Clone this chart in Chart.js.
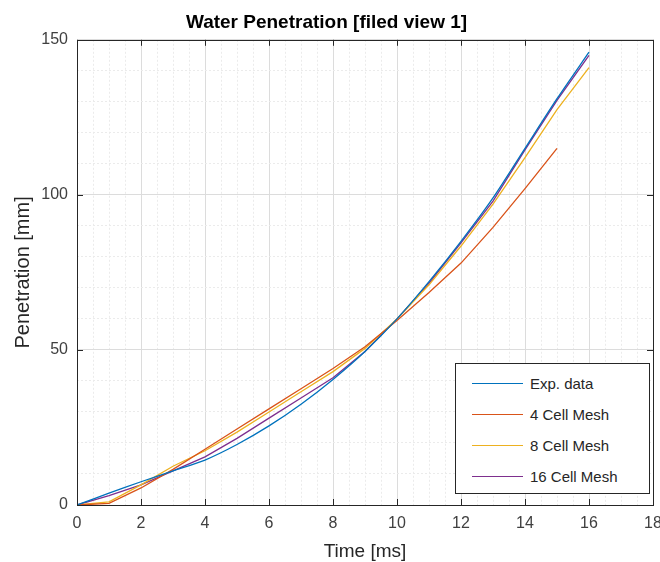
<!DOCTYPE html>
<html>
<head>
<meta charset="utf-8">
<script src="https://cdn.jsdelivr.net/npm/chart.js@4.4.1/dist/chart.umd.min.js"></script>
<style>
  html, body { margin: 0; padding: 0; background: #fff; }
  #wrap { position: relative; width: 660px; height: 562px; }
  #legend {
    position: absolute; left: 455px; top: 363px; width: 195px; height: 131px;
    border: 1px solid #262626; background: #fff; box-sizing: border-box;
    font: 15px "Liberation Sans", Arial, sans-serif; color: #262626;
  }
  #legend .row { position: absolute; left: 16px; height: 20px; display: flex; align-items: center; }
  #legend .sw { width: 51px; height: 0; border-top: 1.3px solid; margin-right: 7px; }
</style>
</head>
<body>
<div id="wrap">
  <canvas id="chart" width="660" height="562"></canvas>
  <div id="legend"></div>
</div>
<script>
// ── DATA ─────────────────────────────────────────────────────
const time16 = [0, 1, 2, 3, 4, 5, 6, 7, 8, 9, 10, 11, 12, 13, 14, 15, 16]
const time15 = [0, 1, 2, 3, 4, 5, 6, 7, 8, 9, 10, 11, 12, 13, 14, 15]
const expData = [0, 3.8, 7.5, 11, 14.5, 19.5, 25.5, 32.5, 40.5, 49.5, 60, 72, 85, 99, 115, 131, 146]
const mesh4 = [0, 0.5, 5.5, 11.5, 18, 24.5, 31, 37.5, 44, 51, 59.5, 68.5, 78, 89.5, 102, 115]
const mesh8 = [0, 1, 6.5, 12.5, 17.5, 23.5, 30, 36.5, 43, 50.5, 60, 71, 83.5, 97, 112, 127.5, 141]
const mesh16 = [0, 3, 6.5, 11, 15.5, 21.5, 28, 34.5, 41, 49.5, 60, 71.5, 84.5, 98, 114.5, 130.5, 145]
const seriesNames = ['Exp. data', '4 Cell Mesh', '8 Cell Mesh', '16 Cell Mesh']
const seriesColors = ['#0072BD', '#D95319', '#EDB120', '#7E2F8E']
const xMajor = 2
const yMajor = 50

const FONT = '"Liberation Sans", Arial, Helvetica, sans-serif'
const pts = (xs, ys) => xs.map((x, i) => ({ x, y: ys[i] }))

// ── BOX + INWARD TICKS (matlab style) ────────────────────────
const boxPlugin = {
  id: 'box',
  afterDatasetsDraw(chart) {
    const { ctx, chartArea: a, scales: { x, y } } = chart
    ctx.save()
    ctx.strokeStyle = '#262626'
    ctx.lineWidth = 1
    ctx.beginPath()
    x.ticks.forEach(t => {
      if (t.value % xMajor !== 0) return
      const px = Math.round(x.getPixelForValue(t.value)) + 0.5
      ctx.moveTo(px, a.bottom); ctx.lineTo(px, a.bottom - 6)
      ctx.moveTo(px, a.top); ctx.lineTo(px, a.top + 6)
    })
    y.ticks.forEach(t => {
      if (t.value % yMajor !== 0) return
      const py = Math.round(y.getPixelForValue(t.value)) + 0.5
      ctx.moveTo(a.left, py); ctx.lineTo(a.left + 6, py)
      ctx.moveTo(a.right, py); ctx.lineTo(a.right - 6, py)
    })
    ctx.stroke()
    ctx.strokeRect(Math.round(a.left) + 0.5, Math.round(a.top) + 0.5,
      Math.round(a.right - a.left), Math.round(a.bottom - a.top))
    ctx.restore()
  }
}

const gridColor = major => ctx => (ctx.tick && ctx.tick.value % major === 0) ? '#dcdcdc' : '#ebebeb'
const gridDash = major => ctx => (ctx.tick && ctx.tick.value % major !== 0) ? [2, 2] : []

const datasets = [
  { data: pts(time16, expData), tension: 0.25 },
  { data: pts(time15, mesh4), tension: 0 },
  { data: pts(time16, mesh8), tension: 0 },
  { data: pts(time16, mesh16), tension: 0 }
].map((d, i) => ({
  ...d,
  label: seriesNames[i],
  borderColor: seriesColors[i],
  backgroundColor: seriesColors[i],
  borderWidth: 1.3,
  pointRadius: 0,
  fill: false
}))

new Chart(document.getElementById('chart'), {
  type: 'line',
  data: { datasets },
  options: {
    responsive: false,
    animation: false,
    layout: { padding: { left: 0, right: 7, top: 0, bottom: 0 } },
    plugins: {
      legend: { display: false },
      tooltip: { enabled: false },
      title: {
        display: true,
        text: 'Water Penetration [filed view 1]',
        color: '#000',
        font: { family: FONT, size: 19, weight: 'bold' },
        padding: { top: 11, bottom: 6 }
      }
    },
    scales: {
      x: {
        type: 'linear', min: 0, max: 18,
        afterFit(s) { s.height = 57; s.paddingRight = 7 },
        ticks: {
          stepSize: 0.5, autoSkip: false, maxRotation: 0, padding: 9,
          color: '#404040', font: { family: FONT, size: 16 },
          callback: v => v % xMajor === 0 ? v : ''
        },
        grid: { color: gridColor(xMajor), lineWidth: 1, drawTicks: false },
        border: { display: false, dash: gridDash(xMajor) },
        title: {
          display: true, text: 'Time [ms]', color: '#262626',
          font: { family: FONT, size: 19, lineHeight: 1 }, padding: { top: 0, bottom: 1 }
        }
      },
      y: {
        type: 'linear', min: 0, max: 150,
        afterFit(s) { s.width = 77 },
        ticks: {
          stepSize: 10, autoSkip: false, padding: 9,
          color: '#404040', font: { family: FONT, size: 16 },
          callback: v => v % yMajor === 0 ? v : ''
        },
        grid: { color: gridColor(yMajor), lineWidth: 1, drawTicks: false },
        border: { display: false, dash: gridDash(yMajor) },
        title: {
          display: true, text: 'Penetration [mm]', color: '#262626',
          font: { family: FONT, size: 20, lineHeight: 1 }, padding: { top: 13, bottom: 0 }
        }
      }
    }
  },
  plugins: [boxPlugin]
})

// ── LEGEND (inside axes, lower right) ────────────────────────
const legend = document.getElementById('legend')
seriesNames.forEach((name, i) => {
  const row = document.createElement('div')
  row.className = 'row'
  row.style.top = (9 + i * 31) + 'px'
  row.innerHTML = `<span class="sw" style="border-color:${seriesColors[i]}"></span><span>${name}</span>`
  legend.appendChild(row)
})
</script>
</body>
</html>
